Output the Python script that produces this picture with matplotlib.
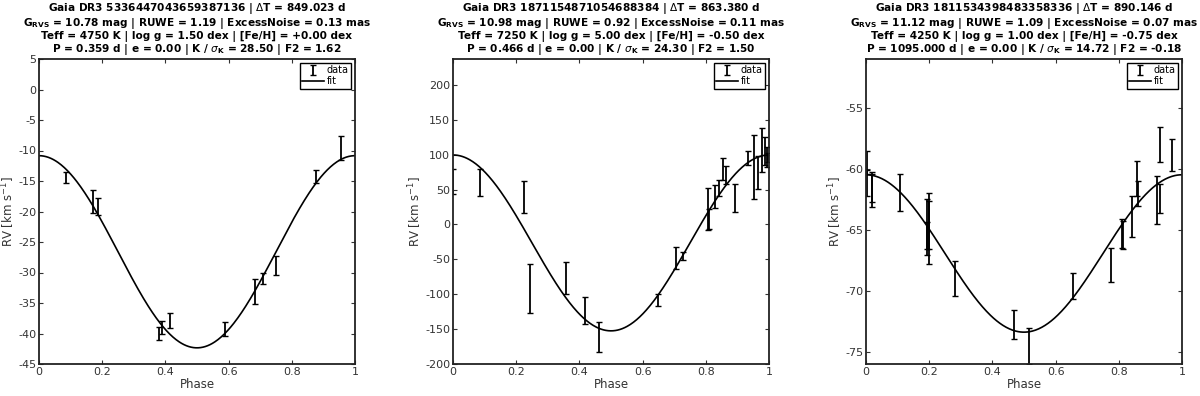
import numpy as np
import matplotlib
matplotlib.use("Agg")
import matplotlib.pyplot as plt

# ---------------- data ----------------
titles = [
    [r"Gaia DR3 5336447043659387136 | $\Delta$T = 849.023 d",
     r"G$_{\mathbf{RVS}}$ = 10.78 mag | RUWE = 1.19 | ExcessNoise = 0.13 mas",
     r"Teff = 4750 K | log g = 1.50 dex | [Fe/H] = +0.00 dex",
     r"P = 0.359 d | e = 0.00 | K / $\sigma_\mathbf{K}$ = 28.50 | F2 = 1.62"],
    [r"Gaia DR3 1871154871054688384 | $\Delta$T = 863.380 d",
     r"G$_{\mathbf{RVS}}$ = 10.98 mag | RUWE = 0.92 | ExcessNoise = 0.11 mas",
     r"Teff = 7250 K | log g = 5.00 dex | [Fe/H] = -0.50 dex",
     r"P = 0.466 d | e = 0.00 | K / $\sigma_\mathbf{K}$ = 24.30 | F2 = 1.50"],
    [r"Gaia DR3 1811534398483358336 | $\Delta$T = 890.146 d",
     r"G$_{\mathbf{RVS}}$ = 11.12 mag | RUWE = 1.09 | ExcessNoise = 0.07 mas",
     r"Teff = 4250 K | log g = 1.00 dex | [Fe/H] = -0.75 dex",
     r"P = 1095.000 d | e = 0.00 | K / $\sigma_\mathbf{K}$ = 14.72 | F2 = -0.18"],
]

phase1 = [0.085, 0.172, 0.187, 0.381, 0.389, 0.414, 0.588, 0.685, 0.710, 0.749, 0.876, 0.957]
rv1    = [-14.45, -18.35, -19.15, -40.0, -38.95, -37.86, -39.2, -33.1, -31.0, -28.85, -14.3, -9.6]
err1   = [0.93, 1.9, 1.36, 1.04, 1.07, 1.23, 1.15, 2.05, 0.85, 1.5, 1.1, 1.94]
gamma1, K1 = -26.6, 15.75

phase2 = [0.001, 0.085, 0.225, 0.243, 0.357, 0.417, 0.461, 0.648, 0.707, 0.728,
          0.807, 0.809, 0.829, 0.841, 0.854, 0.865, 0.893, 0.933, 0.951, 0.965,
          0.979, 0.988, 0.994, 0.996]
rv2    = [61.5, 60.0, 39.5, -92.0, -76.8, -123.2, -161.2, -109.0, -48.3, -45.0,
          21.8, 7.9, 40.0, 52.0, 79.7, 71.3, 38.0, 95.2, 82.0, 74.4,
          106.0, 105.0, 96.6, 96.0]
err2   = [17.5, 19.0, 23.2, 35.0, 23.2, 18.9, 22.0, 8.6, 16.3, 5.3,
          29.9, 14.0, 16.0, 11.5, 15.5, 13.0, 19.9, 10.5, 45.7, 23.7,
          31.6, 20.3, 14.4, 6.0]
gamma2, K2 = -26.5, 126.0

phase3 = [0.003, 0.003, 0.018, 0.019, 0.109, 0.192, 0.194, 0.198, 0.200, 0.282,
          0.468, 0.517, 0.655, 0.776, 0.811, 0.812, 0.842, 0.859, 0.860, 0.921,
          0.929, 0.931, 0.967]
rv3    = [-59.5, -61.15, -61.5, -61.79, -61.94, -64.8, -65.5, -64.3, -65.2, -69.0,
          -72.8, -74.5, -69.6, -67.9, -65.3, -65.45, -63.9, -60.78, -62.03, -62.56,
          -62.47, -58.0, -58.85]
err3   = [0.96, 1.09, 1.23, 1.33, 1.53, 2.3, 1.1, 2.3, 2.6, 1.42,
          1.19, 1.49, 1.04, 1.39, 1.19, 1.16, 1.67, 1.46, 1.02, 1.95,
          1.19, 1.45, 1.31]
gamma3, K3 = -66.94, 6.45

panels = [
    dict(ph=phase1, rv=rv1, err=err1, gamma=gamma1, K=K1, ylim=(-45, 5),
         yticks=np.arange(-45, 6, 5), left=39),
    dict(ph=phase2, rv=rv2, err=err2, gamma=gamma2, K=K2, ylim=(-200, 237),
         yticks=np.arange(-200, 201, 50), left=453),
    dict(ph=phase3, rv=rv3, err=err3, gamma=gamma3, K=K3, ylim=(-76, -51),
         yticks=np.arange(-75, -54, 5), left=866),
]

W, H = 1200, 396
fig = plt.figure(figsize=(W / 100, H / 100), dpi=100)
plt.rcParams['font.family'] = ['DejaVu Sans']
tick_col = '#333333'

for i, p in enumerate(panels):
    ax = fig.add_axes([p['left'] / W, 1 - 364 / H, 316 / W, 305 / H])
    eb = ax.errorbar(p['ph'], p['rv'], yerr=p['err'], fmt='none', ecolor='black',
                     elinewidth=1.3, capsize=2, capthick=1.0, label='data')
    phs = np.linspace(0, 1, 400)
    ln, = ax.plot(phs, p['gamma'] + p['K'] * np.cos(2 * np.pi * phs), color='black',
                  lw=1.2, label='fit')
    ax.set_xlim(0, 1)
    ax.set_ylim(*p['ylim'])
    ax.set_xticks([0, 0.2, 0.4, 0.6, 0.8, 1])
    ax.set_xticklabels(['0', '0.2', '0.4', '0.6', '0.8', '1'])
    ax.set_yticks(p['yticks'])
    ax.set_yticklabels([str(int(v)) for v in p['yticks']])
    ax.tick_params(direction='in', top=True, right=True, length=3, width=0.8,
                   labelsize=8, colors=tick_col, pad=2)
    for s in ax.spines.values():
        s.set_linewidth(1.3)
        s.set_color('#222222')
    ax.set_xlabel('Phase', fontsize=8.5, color=tick_col, labelpad=1)
    ax.set_ylabel(r'RV [km s$^{-1}$]', fontsize=8.5, color=tick_col, labelpad=1)
    ax.set_title("\n".join(titles[i]), fontsize=7.6, fontweight='bold',
                 linespacing=1.0, pad=5)
    leg = ax.legend([eb, ln], ['data', 'fit'], loc='upper right', fontsize=7,
                    frameon=True, fancybox=False,
                    edgecolor='black', framealpha=1, borderpad=0.25,
                    handlelength=2.2, handletextpad=0.3, labelspacing=0.1,
                    borderaxespad=0.4)
    leg.get_frame().set_linewidth(1.0)

fig.savefig('out.png', dpi=100)
